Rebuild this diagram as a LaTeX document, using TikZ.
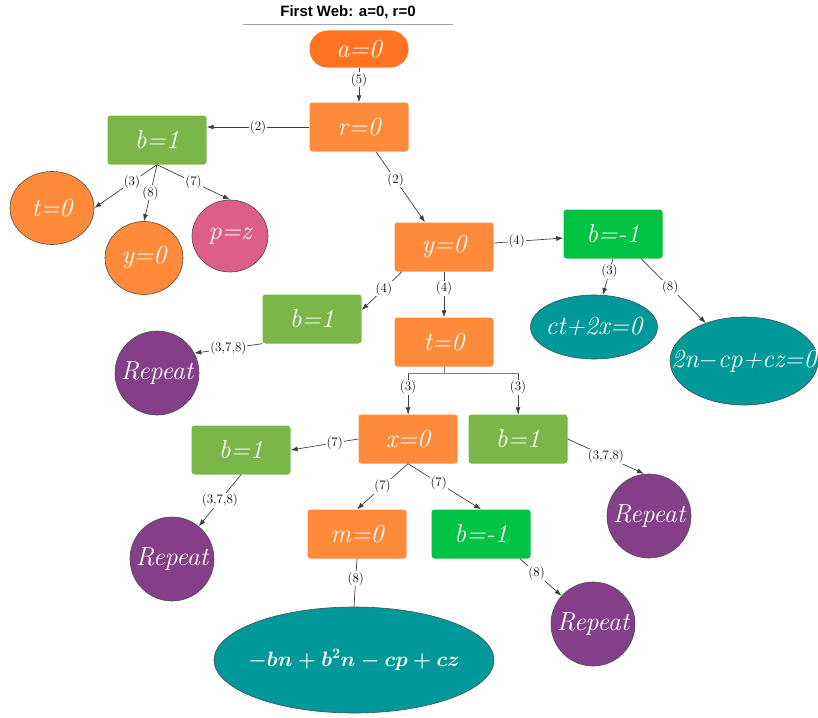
\documentclass[tikz,border=0pt]{standalone}
\usepackage{amsmath}
\usepackage{fontspec}
\newfontfamily\titlefont{Liberation Sans}
\usetikzlibrary{arrows.meta,shapes.geometric}

\definecolor{startorange}{HTML}{FF7322}
\definecolor{valorange}{HTML}{FF8B3A}
\definecolor{bgreen}{HTML}{7AB648}
\definecolor{bbright}{HTML}{00C243}
\definecolor{pzpink}{HTML}{DD5E87}
\definecolor{eqteal}{HTML}{009999}
\definecolor{reppurple}{HTML}{833F88}
\definecolor{rulegray}{HTML}{9EA3B5}

% text wider than its ellipse
\newcommand{\tightlabel}[1]{\makebox[0pt]{#1}}

\begin{document}
\begin{tikzpicture}[x=1pt, y=-1pt,
  valbox/.style={rectangle, rounded corners=3pt, minimum width=99pt, minimum height=49pt,
    inner sep=0pt, text=white, font=\itshape\fontsize{26}{30}\selectfont},
  pill/.style={valbox, rounded corners=18pt, minimum height=37pt, fill=startorange},
  ball/.style={ellipse, draw=black!70, line width=0.6pt, inner sep=0pt,
    text=white, font=\itshape\fontsize{26}{30}\selectfont},
  repball/.style={ball, fill=reppurple, minimum width=84pt, minimum height=84pt},
  link/.style={draw=black!75, line width=0.7pt, -{Latex[length=7pt,width=5pt]}},
  plain/.style={draw=black!75, line width=0.7pt},
  forkline/.style={draw=black!50, line width=0.7pt},
  lbl/.style={fill=white, inner sep=1pt, text=black, font=\fontsize{13}{15}\selectfont}]
  \useasboundingbox (0,0) rectangle (818,717);

  % title
  \node[font=\titlefont\bfseries\fontsize{15}{18}\selectfont] (title) at (348,12) {First Web: a=0, r=0};
  \draw[rulegray, line width=0.8pt] (243,24) -- (453,24);

  % top part
  \node[pill] (a0) at (359,49) {a=0};
  \node[valbox, fill=valorange] (r0) at (359,127) {r=0};
  \node[valbox, fill=bgreen] (b1top) at (157,140) {b=1};
  \node[ball, fill=valorange, minimum width=84pt, minimum height=73pt] (t0left) at (52,208) {t=0};
  \node[ball, fill=valorange, minimum width=78pt, minimum height=73pt] (y0left) at (144,258) {\tightlabel{y=0}};
  \node[ball, fill=pzpink, minimum width=76pt, minimum height=72pt] (pz) at (230,236) {\tightlabel{p=z}};

  % y=0 branch
  \node[valbox, fill=valorange] (y0) at (444,247) {y=0};
  \node[valbox, fill=bbright] (bneg) at (613,234) {b=-1};
  \node[ball, fill=eqteal, minimum width=127pt, minimum height=64pt] (cteq) at (594,327) {\tightlabel{ct+2x=0}};
  \node[ball, fill=eqteal, minimum width=148pt, minimum height=88pt] (nteq) at (744,361) {\tightlabel{2n$-$cp+cz=0}};
  \node[valbox, fill=bgreen] (b1mid) at (312,319) {b=1};
  \node[valbox, fill=valorange] (t0) at (444,342) {t=0};

  % t=0 branch
  \node[valbox, fill=valorange] (x0) at (408,439) {x=0};
  \node[valbox, fill=bgreen] (b1right) at (518,439) {b=1};
  \node[valbox, fill=bgreen] (b1left) at (241,450) {b=1};
  \node[valbox, fill=valorange] (m0) at (357,534) {m=0};
  \node[valbox, fill=bbright] (bneglow) at (481,534) {b=-1};
  \node[ball, fill=eqteal, minimum width=280pt, minimum height=106pt,
    font=\fontsize{22}{26}\selectfont] (final) at (354,660) {\tightlabel{\boldmath$-bn+b^2n-cp+cz$}};

  % repeats
  \foreach \n/\x/\y in {repA/157/373, repB/172/559, repC/649/516, repD/593/624}
    \node[repball] (\n) at (\x,\y) {\tightlabel{Repeat}};

  % connectors
  \draw[link] (a0) -- node[lbl, pos=0.35] {(5)} (r0);
  \draw[link] (r0.west) -- node[lbl] {(2)} (r0.west -| b1top.east);
  \draw[link] (b1top.south) -- node[lbl, pos=0.4] {(3)} (t0left.east);
  \draw[link] (b1top.south) -- node[lbl] {(8)} (y0left.north);
  \draw[link] (b1top.south) -- node[lbl] {(7)} (pz.north);
  \draw[link] ([xshift=17pt]r0.south) -- node[lbl, pos=0.4] {(2)} ([xshift=-19pt]y0.north);
  \draw[link] ([yshift=4pt]y0.east) -- node[lbl, pos=0.33] {(4)} ([yshift=-4pt]bneg.west);
  \draw[link] (bneg.south) -- node[lbl, pos=0.35] {(3)} (cteq);
  \draw[link] ([xshift=28pt]bneg.south) -- node[lbl, pos=0.45] {(8)} (nteq);
  \draw[link] ([xshift=-42pt]y0.south) -- node[lbl, pos=0.45] {(4)} ([yshift=9pt]b1mid.east);
  \draw[link] (y0) -- node[lbl, pos=0.37] {(4)} (t0);
  \draw[link] (b1mid.south west) -- node[lbl] {(3,7,8)} (repA.28);

  % fork under t=0
  \draw[forkline] (t0.south) -- ++(0,7) coordinate (fork);
  \draw[forkline] (fork) -| (x0.north);
  \draw[forkline] (fork) -| (b1right.north);
  \draw[link] (fork -| x0.north) -- node[lbl, pos=0.33] {(3)} (x0.north);
  \draw[link] (fork -| b1right.north) -- node[lbl, pos=0.33] {(3)} (b1right.north);

  \draw[link] (x0.west) -- node[lbl, pos=0.35] {(7)} (b1left.east);
  \draw[link] (b1left.south) -- node[lbl] {(3,7,8)} (repB);
  \draw[link] (x0.south) -- node[lbl] {(7)} (m0.north);
  \draw[link] (x0.south) -- node[lbl, pos=0.42] {(7)} (bneglow.north);
  \draw[link] (b1right.east) -- node[lbl] {(3,7,8)} ([xshift=-5pt]repC.north);
  \draw[plain] (m0.south) -- node[lbl, pos=0.42] {(8)} (final.north);
  \draw[link] ([xshift=39pt]bneglow.south) -- node[lbl, pos=0.4] {(8)} (repD);
\end{tikzpicture}
\end{document}
